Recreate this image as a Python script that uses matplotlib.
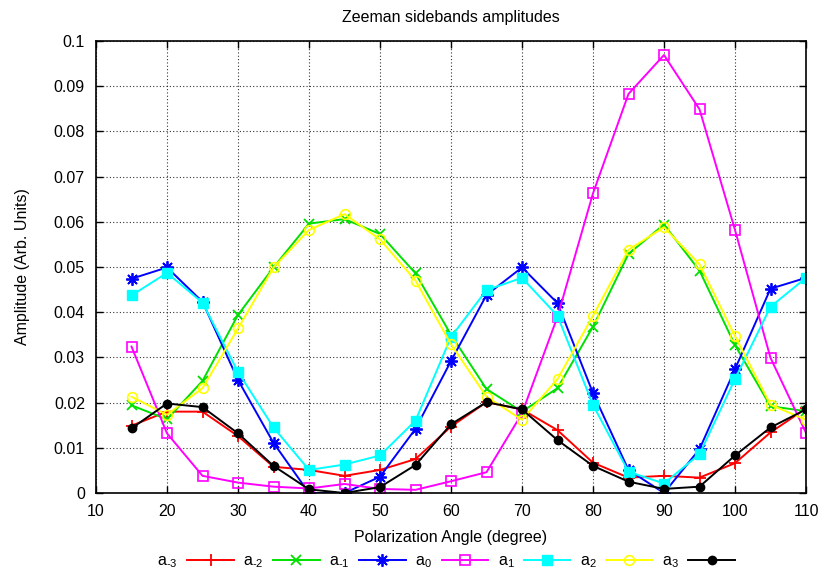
import numpy as np
import matplotlib
matplotlib.use("Agg")
import matplotlib.pyplot as plt

plt.rcParams['font.family'] = ['Liberation Sans', 'DejaVu Sans']
plt.rcParams['mathtext.default'] = 'regular'

# Data
angle = [15, 20, 25, 30, 35, 40, 45, 50, 55, 60, 65, 70, 75, 80, 85, 90, 95, 100, 105, 110]

a_m3 = [0.0149, 0.0180, 0.0180, 0.0126, 0.0058, 0.0051, 0.0038, 0.0051, 0.0075, 0.0147,
        0.0201, 0.0185, 0.0139, 0.0067, 0.0034, 0.0038, 0.0034, 0.0066, 0.0134, 0.0187]
a_m2 = [0.0194, 0.0163, 0.0248, 0.0394, 0.0499, 0.0596, 0.0606, 0.0573, 0.0486, 0.0350,
        0.0230, 0.0180, 0.0232, 0.0368, 0.0529, 0.0594, 0.0492, 0.0327, 0.0192, 0.0181]
a_m1 = [0.0474, 0.0499, 0.0423, 0.0250, 0.0111, 0.0000, 0.0000, 0.0036, 0.0142, 0.0292,
        0.0438, 0.0499, 0.0420, 0.0221, 0.0051, 0.0000, 0.0097, 0.0274, 0.0452, 0.0476]
a_0 = [0.0324, 0.0132, 0.0038, 0.0023, 0.0014, 0.0010, 0.0020, 0.0009, 0.0007, 0.0026,
       0.0046, 0.0176, 0.0390, 0.0663, 0.0883, 0.0969, 0.0849, 0.0582, 0.0299, 0.0133]
a_1 = [0.0437, 0.0487, 0.0421, 0.0268, 0.0145, 0.0051, 0.0063, 0.0083, 0.0160, 0.0345,
       0.0449, 0.0476, 0.0392, 0.0195, 0.0047, 0.0021, 0.0086, 0.0252, 0.0412, 0.0476]
a_2 = [0.0213, 0.0173, 0.0232, 0.0364, 0.0499, 0.0582, 0.0617, 0.0561, 0.0470, 0.0329,
       0.0213, 0.0162, 0.0252, 0.0392, 0.0538, 0.0588, 0.0506, 0.0347, 0.0195, 0.0162]
a_3 = [0.0143, 0.0198, 0.0190, 0.0132, 0.0060, 0.0008, 0.0000, 0.0013, 0.0062, 0.0152,
       0.0201, 0.0185, 0.0117, 0.0060, 0.0025, 0.0009, 0.0014, 0.0083, 0.0145, 0.0185]

series = [
    ('$a_{\u2010' + '3}$', a_m3, '#ff0000', dict(marker='+', ms=9, mew=1.3)),
    ('$a_{\u2010' + '2}$', a_m2, '#00e000', dict(marker='x', ms=7, mew=1.3)),
    ('$a_{\u2010' + '1}$', a_m1, '#0000ff', dict(marker=(8, 2, 0), ms=9, mew=1.3)),
    (r'$a_{0}$', a_0, '#ff00ff', dict(marker='s', ms=7, mfc='none', mew=1.2)),
    (r'$a_{1}$', a_1, '#00ffff', dict(marker='s', ms=7, mew=1.0)),
    (r'$a_{2}$', a_2, '#ffff00', dict(marker='o', ms=7, mfc='none', mew=1.2)),
    (r'$a_{3}$', a_3, '#000000', dict(marker='o', ms=6, mew=1.0)),
]

fs = 11.5

fig = plt.figure(figsize=(8.21, 5.73), dpi=100)
ax = fig.add_axes([96/821, 1 - 493/573, (806 - 96)/821, (493 - 41)/573])

for label, vals, color, mk in series:
    ax.plot(angle, vals, color=color, lw=1.4, label=label, **mk)

ax.set_xlim(10, 110)
ax.set_ylim(0, 0.1)
ax.set_xticks(np.arange(10, 111, 10))
yt = np.arange(0, 0.1001, 0.01)
ax.set_yticks(yt)
ax.set_yticklabels(['0'] + ['%g' % round(v, 2) for v in yt[1:]])
ax.tick_params(direction='in', top=True, right=True, labelsize=fs, length=5, width=1)
ax.tick_params(axis='x', pad=8)
ax.tick_params(axis='y', pad=8)
ax.grid(True, linestyle=(0, (1, 2)), color='black', lw=0.8, alpha=0.8)
for s in ax.spines.values():
    s.set_linewidth(1.2)

ax.set_title('Zeeman sidebands amplitudes', fontsize=fs, pad=14)
ax.set_xlabel('Polarization Angle (degree)', fontsize=fs, labelpad=8)
ax.set_ylabel('Amplitude (Arb. Units)', fontsize=fs, labelpad=17)

fig.legend(loc='center', bbox_to_anchor=(446/821, 1 - 562/573), ncol=7,
           frameon=False, markerfirst=False, fontsize=fs, handlelength=2.9,
           handletextpad=0.6, columnspacing=0.6, borderpad=0.1)

fig.savefig('out.png', dpi=100)
